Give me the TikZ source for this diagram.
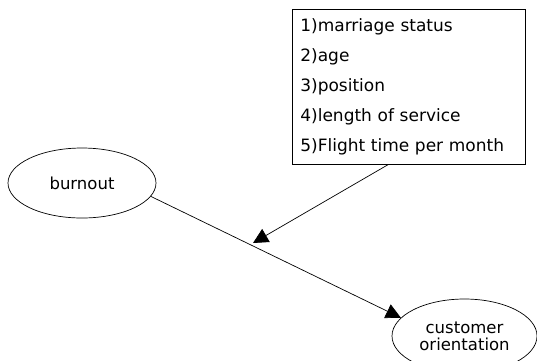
\documentclass[tikz,border=0pt]{standalone}
\usepackage{fontspec}
\setmainfont{DejaVu Sans}
\usetikzlibrary{arrows.meta, positioning, shapes.geometric}
\tikzset{
  varbox/.style = {ellipse, draw=black, line width=0.7pt, align=center, inner sep=0pt},
  listbox/.style = {rectangle, draw=black, line width=0.7pt, align=left, anchor=north west,
                    minimum width=233pt, minimum height=155pt, inner xsep=8pt, text width=217pt},
  arr/.style = {-{Triangle[length=15pt,width=15pt]}, line width=0.7pt}
}

\begin{document}
\begin{tikzpicture}[x=1pt, y=-1pt, font=\fontsize{16.5}{17}\selectfont]
\useasboundingbox (0,0) rectangle (537,360);

% Variables
\node[varbox, minimum width=148pt, minimum height=70pt] (burnout) at (82,183) {burnout};
\node[varbox, minimum width=145pt, minimum height=74pt] (custor) at (464.5,336) {customer\\orientation};

% Moderators
\node[listbox, font=\fontsize{17}{30}\selectfont] (moder) at (292,9) {1)marriage status\\
2)age\\
3)position\\
4)length of service\\
5)Flight time per month};
\coordinate (modpt) at (253,243);

% ----- ARROWS -----
\draw[arr] (burnout.-11) -- (custor.164);
\draw[arr] (moder.-105) -- (modpt);

\end{tikzpicture}
\end{document}
